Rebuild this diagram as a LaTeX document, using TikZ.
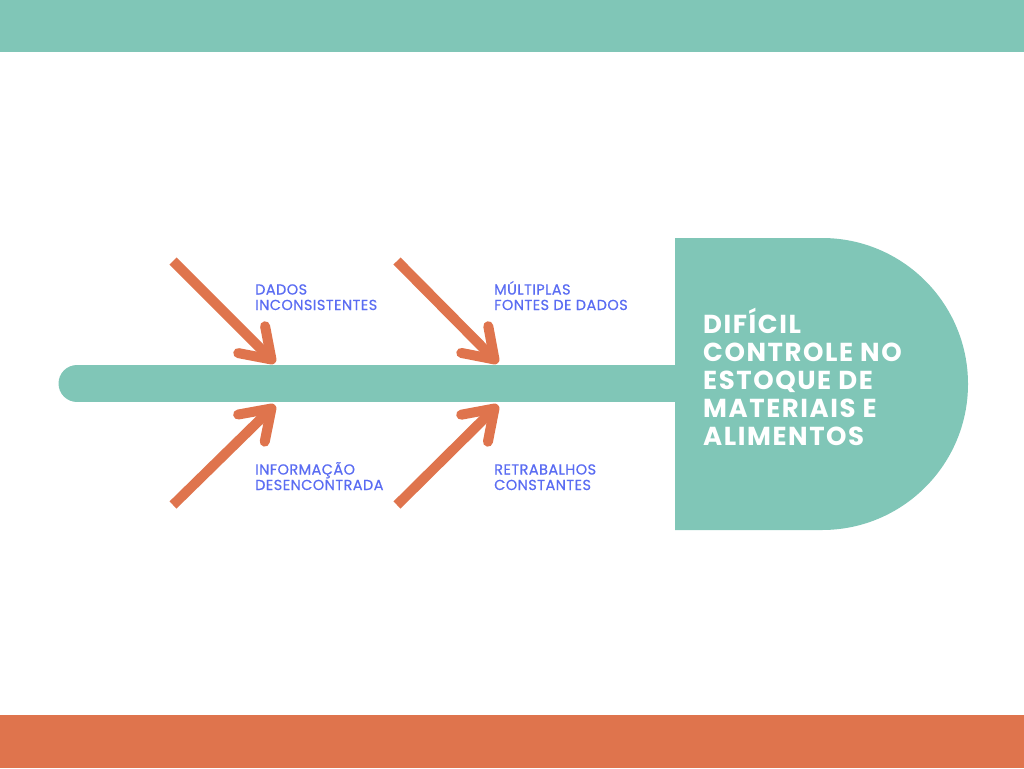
\documentclass[tikz,border=0pt]{standalone}
\usepackage{fontspec}
\setmainfont{Poppins}
\newfontfamily\causefont{Poppins}[FakeBold=0.6, LetterSpace=3]
\usetikzlibrary{arrows.meta, positioning}
\definecolor{fishteal}{HTML}{80C6B7}
\definecolor{fishorange}{HTML}{DF744D}
\definecolor{causeblue}{HTML}{5A6CF2}

\begin{document}
\begin{tikzpicture}[
    x=1pt, y=-1pt,
    cause/.style={line width=10pt, draw=fishorange,
                  -{Straight Barb[length=28pt, width=38pt, line cap=round, line join=round]}},
    causetext/.style={anchor=base west, inner sep=0pt, align=left, text=causeblue,
                      font=\causefont\fontsize{14.5}{15.5}\selectfont},
    effecttext/.style={anchor=base west, inner sep=0pt, align=left, text=white,
                       font=\bfseries\addfontfeatures{LetterSpace=6}\fontsize{26}{28}\selectfont}
  ]
  \useasboundingbox (0,0) rectangle (1024,768);
  \fill[fishteal] (0,0) rectangle (1024,52);
  \fill[fishorange] (0,715) rectangle (1024,768);

  \coordinate (tail) at (77,383.5);
  \coordinate (neck) at (700,383.5);
  \draw[fishteal, line width=37pt, line cap=round] (tail) -- (neck);
  \fill[fishteal] (675,238) -- (822,238) arc[start angle=-90, end angle=90, radius=146]
    -- (675,530) -- cycle;
  \node[effecttext] (effect) at (703,445)
    {DIFÍCIL\\CONTROLE NO\\ESTOQUE DE\\MATERIAIS E\\ALIMENTOS};

  \coordinate (dados-s) at (173,261);
  \coordinate (dados-e) at (275,363);
  \coordinate (info-s) at (173,505);
  \coordinate (info-e) at (275,405);
  \coordinate (fontes-s) at (397,261);
  \coordinate (fontes-e) at (498,363);
  \coordinate (retr-s) at (397,505);
  \coordinate (retr-e) at (498,405);

  \draw[cause] (dados-s) -- (dados-e);
  \draw[cause] (info-s) -- (info-e);
  \draw[cause] (fontes-s) -- (fontes-e);
  \draw[cause] (retr-s) -- (retr-e);

  \node[causetext] (dados) at (255,310) {DADOS\\INCONSISTENTES};
  \node[causetext] (fontes) at (494,310) {MÚLTIPLAS\\FONTES DE DADOS};
  \node[causetext] (info) at (255,490) {INFORMAÇÃO\\DESENCONTRADA};
  \node[causetext] (retr) at (494,490) {RETRABALHOS\\CONSTANTES};
\end{tikzpicture}
\end{document}
